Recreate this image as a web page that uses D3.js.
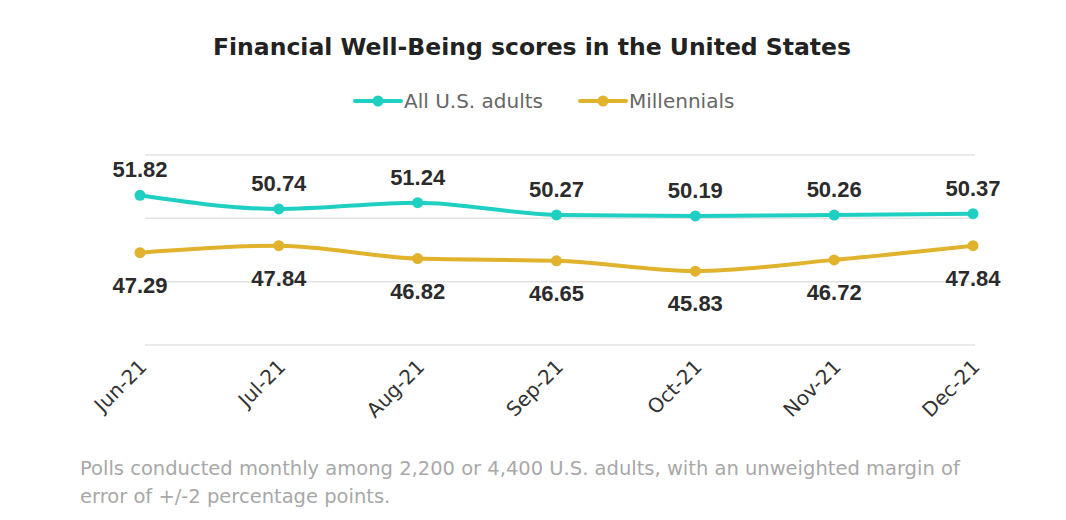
<!DOCTYPE html>
<html><head><meta charset="utf-8">
<script src="https://cdn.jsdelivr.net/npm/d3@7"></script>
<style>body{margin:0;background:#fff}svg{font-family:"DejaVu Sans",Arial,sans-serif}</style>
</head><body>
<svg id="chart" width="1066" height="520"></svg>
<script>
const months = ["Jun-21","Jul-21","Aug-21","Sep-21","Oct-21","Nov-21","Dec-21"];
const allAdults = [51.82,50.74,51.24,50.27,50.19,50.26,50.37];
const millennials = [47.29,47.84,46.82,46.65,45.83,46.72,47.84];
const gridValues = [40,45,50,55];

const svg = d3.select("#chart");
const x = d3.scalePoint().domain(months).range([140, 973]);
const y = d3.scaleLinear().domain([40, 55]).range([345, 155]);

svg.append("g").selectAll("line").data(gridValues).enter().append("line")
  .attr("x1", 145).attr("x2", 975)
  .attr("y1", d => y(d)).attr("y2", d => y(d))
  .attr("stroke", "#e3e3e3").attr("stroke-width", 1.5);

svg.append("text").attr("x", 532).attr("y", 55).attr("text-anchor", "middle")
  .attr("font-size", 23.5).attr("font-weight", "bold").attr("fill", "#222")
  .text("Financial Well-Being scores in the United States");

const series = [
  { name: "All U.S. adults", values: allAdults, color: "#1fd0c2", above: true },
  { name: "Millennials", values: millennials, color: "#e1b22c", above: false }
];

// legend
const legendX = [355, 580];
series.forEach((s, i) => {
  const g = svg.append("g").attr("transform", `translate(${legendX[i]},101)`);
  g.append("line").attr("x1", 0).attr("x2", 46).attr("stroke", s.color).attr("stroke-width", 4).attr("stroke-linecap", "round");
  g.append("circle").attr("cx", 23).attr("r", 5.5).attr("fill", s.color);
  g.append("text").attr("x", 49).attr("y", 7).attr("font-size", 20).attr("fill", "#666").text(s.name);
});

const line = d3.line().x((d, i) => x(months[i])).y(d => y(d)).curve(d3.curveMonotoneX);

series.forEach(s => {
  svg.append("path").datum(s.values).attr("d", line)
    .attr("fill", "none").attr("stroke", s.color).attr("stroke-width", 4);
  svg.append("g").selectAll("circle").data(s.values).enter().append("circle")
    .attr("cx", (d, i) => x(months[i])).attr("cy", d => y(d)).attr("r", 5.5).attr("fill", s.color);
  svg.append("g").selectAll("text").data(s.values).enter().append("text")
    .attr("x", (d, i) => x(months[i]))
    .attr("y", d => s.above ? y(d) - 18 : y(d) + 40)
    .attr("text-anchor", "middle").attr("font-size", 22).attr("font-weight", "bold").attr("fill", "#2b2b2b")
    .attr("font-family", "Liberation Sans, Arial, sans-serif")
    .text(d => d.toFixed(2));
});

svg.append("g").selectAll("text").data(months).enter().append("text")
  .attr("transform", d => `translate(${x(d) + 8},368) rotate(-45)`)
  .attr("text-anchor", "end").attr("font-size", 20).attr("fill", "#333")
  .text(d => d);

const foot = svg.append("text").attr("x", 80).attr("font-size", 19.5).attr("fill", "#a8a8a8");
foot.append("tspan").attr("x", 80).attr("y", 475).text("Polls conducted monthly among 2,200 or 4,400 U.S. adults, with an unweighted margin of");
foot.append("tspan").attr("x", 80).attr("y", 503).text("error of +/-2 percentage points.");
</script>
</body></html>
